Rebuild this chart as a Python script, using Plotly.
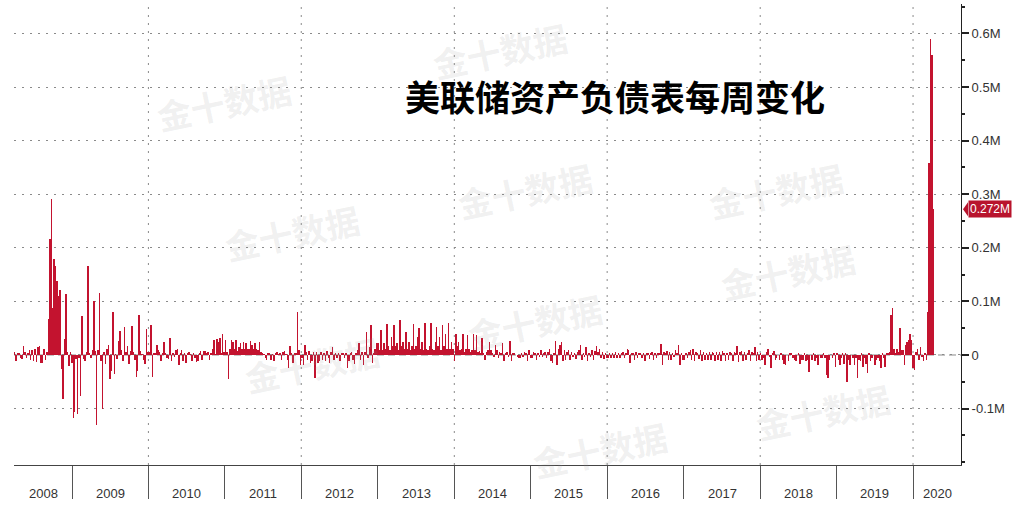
import pandas as pd
import plotly.graph_objects as go

# ---------------- data (weekly change, in billions; axis shows M = million million) -------------
v2008 = [6, -12, 4, 3, -5, -8, 17, 5, -6, 3,
         10, -10, 10, -12, 12, -14, 14, 17, -15, -15,
         12, -10, 6, 68, 217, 292, 88, 179, 167, 139,
         110, 121, -27, -83, 29, 113, 5, -20, 5, -15]
v2009 = [-118, -107, -8, -110, -5, -76, 73, -8, -11, 6,
         167, 4, -6, 9, 100, 8, -130, 10, 116, -11,
         -101, 5, -17, 12, 19, -45, -30, 81, -36, 2,
         -8, 26, 45, 10, -12, 52, 6, 17, -17, 8,
         54, 5, -10, -42, -30, 74, 8, 2, -10, -17,
         48, 5]
v2010 = [5, 56, -42, 4, 3, 19, 10, 6, -12, 4,
         25, 3, -5, -8, 31, -12, 3, -4, 9, 12,
         -19, 3, 9, -12, 4, -15, 3, 6, 2, -12,
         3, -5, -14, -12, 3, 8, -9, 8, 8, 4,
         6, -9, 3, 11, 28, 2, 29, 25, 31, 4,
         40, 5]
v2011 = [28, 6, -45, 12, 28, 25, 12, 28, 8, 15,
         22, 12, 24, 12, 22, 12, 12, 27, 18, 12,
         23, 12, 9, 25, 6, 3, 2, -6, -9, 3,
         3, -9, 2, -12, 3, 5, 2, 3, -9, 6,
         8, 2, -9, -25, 17, 3, -15, 4, 3, 81,
         9, -19]
v2012 = [-6, -19, 19, 6, -9, 8, -15, -12, 5, -43,
         5, -15, -12, 6, -10, 4, -12, 8, -6, -15,
         6, 14, -9, 3, -6, 3, -12, 3, 3, -5,
         4, -25, -12, 3, 6, -9, -17, 3, 9, 23,
         -9, 6, -19, 5, 43, -6, 15, 56, -15, 3,
         12, 22]
v2013 = [22, 9, 47, 9, 22, 12, 58, 16, 9, 34,
         16, 56, 16, 22, 9, 65, 16, 25, 12, 43,
         12, 25, 9, 16, 58, 12, 16, 34, 50, 12,
         25, 9, 60, 12, 9, 16, 59, 12, 9, 25,
         53, 16, 34, 9, 56, 16, 40, 12, 59, 12,
         25, 12]
v2014 = [-12, 40, 16, 25, 9, 12, 39, 6, 12, 37,
         12, 6, 9, 39, 9, 37, 6, 8, 3, 31,
         3, -9, 6, 9, 25, 9, 3, -3, 19, 9,
         -5, 6, 3, 22, -12, 3, 6, -3, 27, -12,
         4, 3, 0, -4, -6, -6, 3, -4, 6, 3,
         -12, 9, -6]
v2015 = [-6, 6, 3, -9, 4, -4, 9, -3, 3, 6,
         -6, 6, 12, -12, -15, 3, 27, -19, 12, 19,
         25, -12, 9, -9, 6, 10, -9, 6, -4, 3,
         -8, 6, 9, 19, -9, 3, -3, 14, -12, 3,
         -4, 9, -9, 8, 16, 6, 12, -5, 6, -8,
         4, -6]
v2016 = [-6, 4, -5, 3, -6, 5, -5, 4, -6, 3,
         6, -6, 4, 12, 9, -15, 3, 4, -9, 6,
         -6, 3, 4, -6, 4, -12, 3, 4, -7, 4,
         6, -9, 4, -6, 3, 4, 20, -19, 6, 4,
         8, -9, 5, -9, 4, -4, 9, 4, 19, -19,
         4, -9]
v2017 = [-9, 3, -6, 6, 9, -9, 12, -12, 6, 4,
         -8, 9, -12, 6, -9, 4, -9, 6, -9, 6,
         4, -11, 6, -9, 6, -12, 8, 4, -12, 4,
         -9, 6, 4, -12, 6, 4, 16, -14, 6, 8,
         -12, 6, -9, 4, 9, -12, 6, 3, 14, -12,
         6, -9]
v2018 = [4, -9, -6, -19, 6, 12, -4, -25, 3, 8,
         -9, -6, 0, -9, 3, -9, -16, -19, 0, -12,
         3, 3, -6, -9, -12, 0, 3, -16, -9, -9,
         3, -12, -9, -31, 0, -9, 3, -12, -6, -19,
         0, -6, -6, 3, -6, -37, -43, -9, 0, -6,
         3, -22]
v2019 = [3, -9, -19, -6, 3, -16, 3, -50, -9, -19,
         0, -6, -19, -6, -43, -9, -12, 3, -22, -6,
         -16, -34, 3, -12, -6, 0, -19, -9, -6, -12,
         -25, 3, -6, -22, 3, 3, 6, 75, 87, 12,
         3, 12, 5, 50, 9, 9, -19, 19, 25, 28,
         40, 28]
v2020 = [-25, -28, 6, 12, -9, 14, -4, -12, 3, -9,
         81, 358, 590, 560, 272]

years = [2008, 2009, 2010, 2011, 2012, 2013, 2014, 2015, 2016, 2017, 2018, 2019, 2020]
values_by_year = [v2008, v2009, v2010, v2011, v2012, v2013, v2014, v2015, v2016,
                  v2017, v2018, v2019, v2020]

y_tick_vals = [-100, 0, 100, 200, 300, 400, 500, 600]
y_tick_text = ["-0.1M", "0", "0.1M", "0.2M", "0.3M", "0.4M", "0.5M", "0.6M"]
grid_years = [2010, 2012, 2014, 2016, 2018, 2020]
last_label_value = 272
last_label_text = "0.272M"
title_text = "美联储资产负债表每周变化"
watermark_text = "金十数据"

# ---------------- build weekly series ----------------
weds = pd.date_range("2008-04-02", "2020-04-08", freq="W-WED")
xs, ys = [], []
for yr, vals in zip(years, values_by_year):
    d = weds[weds.year == yr]
    n = min(len(d), len(vals))
    xs.extend(list(d[:n]))
    ys.extend(vals[:n])

RED = "#c3132f"
x_range = [pd.Timestamp("2008-03-30"), pd.Timestamp("2020-08-17")]

fig = go.Figure()
fig.add_trace(go.Bar(
    x=xs, y=ys, width=7 * 24 * 3600 * 1000,
    marker=dict(color=RED, line=dict(width=0)),
    hoverinfo="skip",
))

shapes = []
# dashed zero line
shapes.append(dict(type="line", xref="paper", x0=0, x1=1, yref="y", y0=0, y1=0,
                   line=dict(color="#8a8a8a", width=1, dash="7px,4px"), layer="below"))
# vertical dotted grid lines every two years
for gy in grid_years:
    gx = pd.Timestamp(f"{gy}-01-01")
    shapes.append(dict(type="line", xref="x", x0=gx, x1=gx, yref="paper", y0=0, y1=1,
                       line=dict(color="#8a8a8a", width=1, dash="2px,6px"), layer="below"))
# arrow notch of the last value label
shapes.append(dict(type="path", xref="paper", xsizemode="pixel", xanchor=1,
                   yref="y", ysizemode="pixel", yanchor=last_label_value,
                   path="M 2,0 L 7,7 L 7,-7 Z", fillcolor="#b8142d",
                   line=dict(width=0)))

annotations = []
# year labels centred on the visible part of each year
for yr in years:
    s = max(pd.Timestamp(f"{yr}-01-01"), x_range[0])
    e = min(pd.Timestamp(f"{yr + 1}-01-01"), x_range[1])
    mid = s + (e - s) / 2
    annotations.append(dict(x=mid, xref="x", y=-0.061, yref="paper", text=str(yr),
                            showarrow=False, yanchor="middle",
                            font=dict(family="Liberation Sans", size=13, color="#333333")))

# watermarks
wm_pos = [(150, 62), (500, 10), (850, 150), (218, 232), (525, 190),
          (862, 312), (535, 362), (238, 405), (600, 490), (897, 452)]
for (px, py) in wm_pos:
    annotations.append(dict(x=(px - 14) / 947, y=(465 - py) / 461, xref="paper", yref="paper",
                            text="<b>" + watermark_text + "</b>", showarrow=False, textangle=-12,
                            font=dict(family="Noto Sans CJK SC", size=34,
                                      color="rgba(150,150,150,0.15)")))

# title
annotations.append(dict(x=(615 - 14) / 947, y=(465 - 68) / 461, xref="paper", yref="paper",
                        text="<b>" + title_text + "</b>", showarrow=False,
                        font=dict(family="Noto Sans CJK SC", size=35, color="#000000")))

# last value label
annotations.append(dict(x=1, xref="paper", xshift=7, xanchor="left", y=last_label_value, yref="y",
                        text=last_label_text, showarrow=False, bgcolor="#b8142d",
                        borderpad=1, font=dict(family="Liberation Sans", size=12, color="white")))

fig.update_layout(
    width=1012, height=506,
    margin=dict(l=14, r=51, t=4, b=41),
    plot_bgcolor="white", paper_bgcolor="white",
    showlegend=False, bargap=0,
    shapes=shapes, annotations=annotations,
    xaxis=dict(
        type="date", range=x_range,
        tickvals=[pd.Timestamp(f"{yr}-01-01") for yr in years[1:]],
        ticks="outside", ticklen=33, tickcolor="#555555", tickwidth=1,
        showticklabels=False, showgrid=False, zeroline=False,
        showline=True, linecolor="#444444", linewidth=1,
    ),
    yaxis=dict(
        side="right", range=[-205.3, 655],
        tickvals=y_tick_vals, ticktext=y_tick_text,
        ticks="outside", ticklen=7, tickwidth=2, tickcolor="#222222",
        minor=dict(dtick=50, tick0=0, ticks="outside", ticklen=3, tickcolor="#222222", showgrid=False),
        showgrid=True, gridcolor="#8a8a8a", gridwidth=1, griddash="2px,6px",
        zeroline=False, showline=True, linecolor="#222222", linewidth=1,
        tickfont=dict(family="Liberation Sans", size=13, color="#333333"),
    ),
)

fig.write_html("out.html",
               config={"displayModeBar": False, "staticPlot": True},
               post_script="document.body.style.margin='0px';document.body.style.overflow='hidden';")
